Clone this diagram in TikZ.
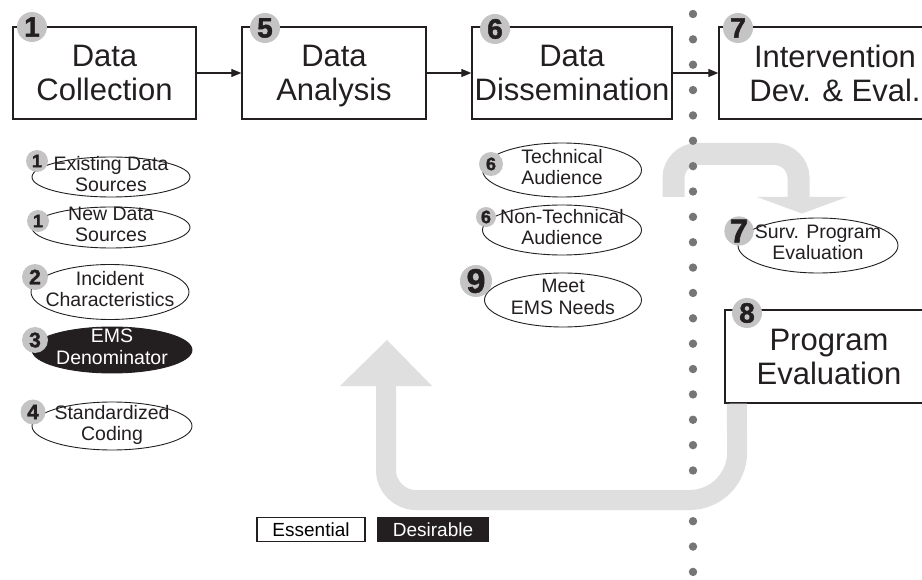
\documentclass[tikz,border=0pt]{standalone}
\usepackage{fontspec}
\setmainfont{Liberation Sans}
\newfontfamily\heavyfont[FakeBold=1.6]{Liberation Sans}
\usetikzlibrary{shapes.geometric,arrows.meta,calc}
\definecolor{ink}{HTML}{231F20}
\definecolor{badgegray}{HTML}{C4C4C4}
\definecolor{bandgray}{HTML}{DFDFDF}
\definecolor{dotgray}{HTML}{767676}
\begin{document}
\begin{tikzpicture}[x=1pt,y=-1pt,
  struts/.style={execute at begin node=\strut,execute at end node=\strut},
  stagetext/.style={inner sep=0pt,align=center,text=ink,yshift=-5pt,
    font=\fontsize{31}{34}\selectfont,struts},
  stage/.style={draw=ink,line width=1.4pt,minimum height=92pt,inner sep=0pt,
    label={[stagetext]center:#1}},
  tasktext/.style={inner sep=0pt,align=center,text=ink,
    font=\fontsize{19.5}{21.5}\selectfont,struts},
  task/.style={ellipse,draw=ink,line width=0.9pt,inner sep=0pt,
    label={[tasktext]center:#1}},
  desirable/.style={ellipse,draw=ink,fill=ink,line width=0.9pt,inner sep=0pt,
    label={[tasktext,text=white]center:#1}},
  badge/.style={circle,fill=badgegray,inner sep=0pt,text=ink},
  bigbadge/.style={badge,minimum size=30pt,font=\heavyfont\bfseries\fontsize{28}{28}\selectfont},
  flow/.style={draw=ink,line width=1.2pt,-{Triangle[length=10pt,width=8pt]}},
  band/.style={draw=bandgray,line width=#1},
  bandtip/.style={fill=bandgray},
  sep/.style={fill=dotgray},
  legendbox/.style={draw=ink,line width=1.2pt,inner sep=0pt,minimum height=24pt,
    font=\fontsize{19}{21}\selectfont}
]
\useasboundingbox (0,0) rectangle (922,580);
\fill[white] (0,0) rectangle (922,580);

% main stages
\node[stage={Data\\Collection},minimum width=183pt] (coll) at (104.5,73) {};
\node[stage={Data\\Analysis},minimum width=184pt] (anal) at (334,73) {};
\node[stage={Data\\Dissemination},minimum width=200pt] (diss) at (572,73) {};
\node[stage={Intervention\\Dev. \& Eval.},minimum width=232pt] (intv) at (835,73) {};
\node[stage={Program\\Evaluation},minimum width=208pt,minimum height=93pt] (peval) at (829,356.5) {};

\draw[flow] (coll.east) -- (anal.west);
\draw[flow] (anal.east) -- (diss.west);
\draw[flow] (diss.east) -- (intv.west);

% stage badges
\node[bigbadge] (b1) at (32,27) {1};
\node[bigbadge] (b5) at (265,28) {5};
\node[bigbadge] (b6) at (495,29) {6};
\node[bigbadge] (b7) at (738,28) {7};
\node[bigbadge] (b8) at (747,313) {8};

% collection tasks
\node[task={Existing Data\\Sources},minimum width=158pt,minimum height=40pt] (exist) at (111,177) {};
\node[task={New Data\\Sources},minimum width=158pt,minimum height=41pt] (newd) at (111,227.5) {};
\node[task={Incident\\Characteristics},minimum width=158pt,minimum height=55pt] (incid) at (110,292) {};
\node[desirable={EMS\\Denominator},minimum width=160pt,minimum height=46pt] (denom) at (112,350) {};
\node[task={Standardized\\Coding},minimum width=160pt,minimum height=48pt] (coding) at (112,426) {};

\node[badge,minimum size=22pt,font=\heavyfont\bfseries\fontsize{18}{18}\selectfont] at (37,161) {1};
\node[badge,minimum size=22pt,font=\heavyfont\bfseries\fontsize{18}{18}\selectfont] at (38,221) {1};
\node[badge,minimum size=26pt,font=\heavyfont\bfseries\fontsize{21}{21}\selectfont] at (35,277) {2};
\node[badge,minimum size=26pt,font=\heavyfont\bfseries\fontsize{21}{21}\selectfont] at (35,340) {3};
\node[badge,minimum size=25pt,font=\heavyfont\bfseries\fontsize{21}{21}\selectfont] at (33,412) {4};

% dissemination tasks
\node[task={Technical\\Audience},minimum width=159pt,minimum height=54pt] (tech) at (562,170) {};
\node[task={Non-Technical\\Audience},minimum width=159pt,minimum height=50pt] (ntech) at (562,230) {};
\node[task={Meet\\EMS Needs},minimum width=157pt,minimum height=54pt] (needs) at (563,300) {};

\node[badge,minimum size=24pt,font=\heavyfont\bfseries\fontsize{18}{18}\selectfont] at (491,164) {6};
\node[badge,minimum size=20pt,font=\heavyfont\bfseries\fontsize{18}{18}\selectfont] at (486,217) {6};
\node[badge,minimum size=32pt,font=\heavyfont\bfseries\fontsize{34}{34}\selectfont] at (476,281) {9};

% intervention task
\node[task={Surv. Program\\Evaluation},minimum width=160pt,minimum height=55pt] (surv) at (818,245.5) {};
\node[badge,minimum size=28pt,font=\heavyfont\bfseries\fontsize{33}{33}\selectfont] at (739,231) {7};

% feedback loop into the survey evaluation
\coordinate (loopfrom) at (673.5,197);
\coordinate (looptip) at ($(surv.north)+(-16,-4)$);
\draw[band=22pt,rounded corners=24pt] (loopfrom) -- (673.5,154) -- (798.5,154) -- (798.5,198);
\fill[bandtip] (757,197) -- (847,197) -- (looptip) -- cycle;

% dotted separator
\foreach \i in {0,...,22}
  \fill[sep] (693,14+\i*25.36) circle (4.2);

% return loop from program evaluation
\coordinate (retfrom) at ($(peval.south west)+(12.5,0)$);
\coordinate (rettip) at (387,340);
\draw[band=20pt] (retfrom) [rounded corners=48pt] -- (737.5,500) [rounded corners=30pt] -- (386,500) -- (386,386);
\fill[bandtip] (340,386) -- (432,386) -- (rettip) -- cycle;

% legend
\node[legendbox,minimum width=108pt] (ess) at (311,529.5) {Essential};
\node[legendbox,minimum width=110pt,fill=ink,text=white] (des) at (433,529.5) {Desirable};
\end{tikzpicture}
\end{document}
